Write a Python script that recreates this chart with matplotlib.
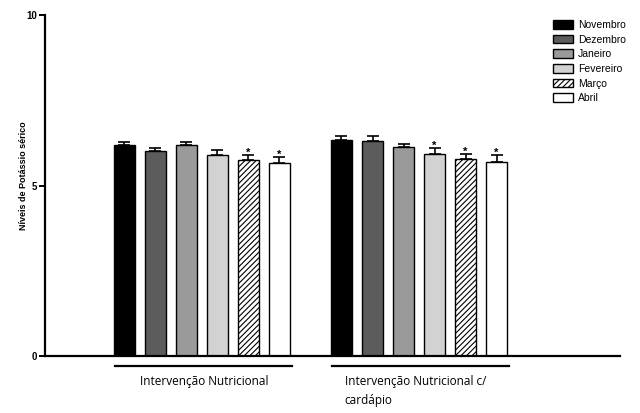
import matplotlib.pyplot as plt
import numpy as np

plt.rcParams['font.family'] = ['Liberation Sans', 'DejaVu Sans']
plt.rcParams['hatch.linewidth'] = 0.8

meses = ['Novembro', 'Dezembro', 'Janeiro', 'Fevereiro', 'Março', 'Abril']
grupos = ['Intervenção Nutricional', 'Intervenção Nutricional c/\ncardápio']
# médias e erro padrão por grupo
media_g1 = [6.19, 6.01, 6.19, 5.90, 5.75, 5.67]
erro_g1 = [0.08, 0.08, 0.09, 0.14, 0.13, 0.16]
media_g2 = [6.33, 6.30, 6.12, 5.91, 5.79, 5.68]
erro_g2 = [0.11, 0.14, 0.09, 0.18, 0.13, 0.20]
# asterisco = diferença significativa
sig_g1 = [False, False, False, False, True, True]
sig_g2 = [False, False, False, True, True, True]

cores = ['#000000', '#5c5c5c', '#9a9a9a', '#d2d2d2', '#ffffff', '#ffffff']
hachuras = [None, None, None, None, '//////', None]

fig = plt.figure(figsize=(6.4, 4.13), dpi=100)
ax = fig.add_axes([45/640, 57/413, 575/640, 341/413])

largura = 0.68
for g, (medias, erros, sig) in enumerate([(media_g1, erro_g1, sig_g1), (media_g2, erro_g2, sig_g2)]):
    for i in range(6):
        x = g * 7 + i
        ax.bar(x, medias[i], width=largura, color=cores[i], edgecolor='black',
               linewidth=1.0, hatch=hachuras[i],
               label=meses[i] if g == 0 else None, zorder=2)
        ax.errorbar(x, medias[i] + erros[i] / 2, yerr=[[erros[i] / 2], [erros[i] / 2]],
                    fmt='none', ecolor='black', elinewidth=1.2, capsize=4, capthick=1.2, zorder=3)
        if sig[i]:
            ax.text(x, medias[i] + erros[i] + 0.08, '*', ha='center', va='center',
                    fontsize=8, fontweight='bold')

ax.set_xlim(-2.56, 15.98)
ax.set_ylim(0, 10)
ax.set_yticks([0, 5, 10])
ax.set_xticks([])
ax.spines['top'].set_visible(False)
ax.spines['right'].set_visible(False)
ax.spines['left'].set_linewidth(1.6)
ax.spines['bottom'].set_linewidth(1.6)
ax.tick_params(axis='y', length=4, width=1.4, labelsize=7, pad=2)
for t in ax.get_yticklabels():
    t.set_fontweight('bold')
ax.set_ylabel('Níveis de Potássio sérico', fontsize=6.5, fontweight='bold')
ax.yaxis.set_label_coords(-0.03, 0.53)

# linhas e rótulos dos grupos
for g, nome in enumerate(grupos):
    x0 = g * 7 - 0.3
    x1 = g * 7 + 5.4
    ax.plot([x0, x1], [-0.3, -0.3], color='black', lw=1.6, clip_on=False)
    ax.text(g * 7 + (0.5 if g == 0 else 0.1), -0.55, nome,
            ha='left', va='top', fontsize=8.5, family=['Open Sans', 'DejaVu Sans'],
            linespacing=1.6)

leg = ax.legend(loc='upper left', bbox_to_anchor=(0.876, 0.998), frameon=False,
                fontsize=7.5, handlelength=1.9, handleheight=0.9, labelspacing=0.45,
                handletextpad=0.5, borderaxespad=0)

fig.savefig('out.png', dpi=100)
